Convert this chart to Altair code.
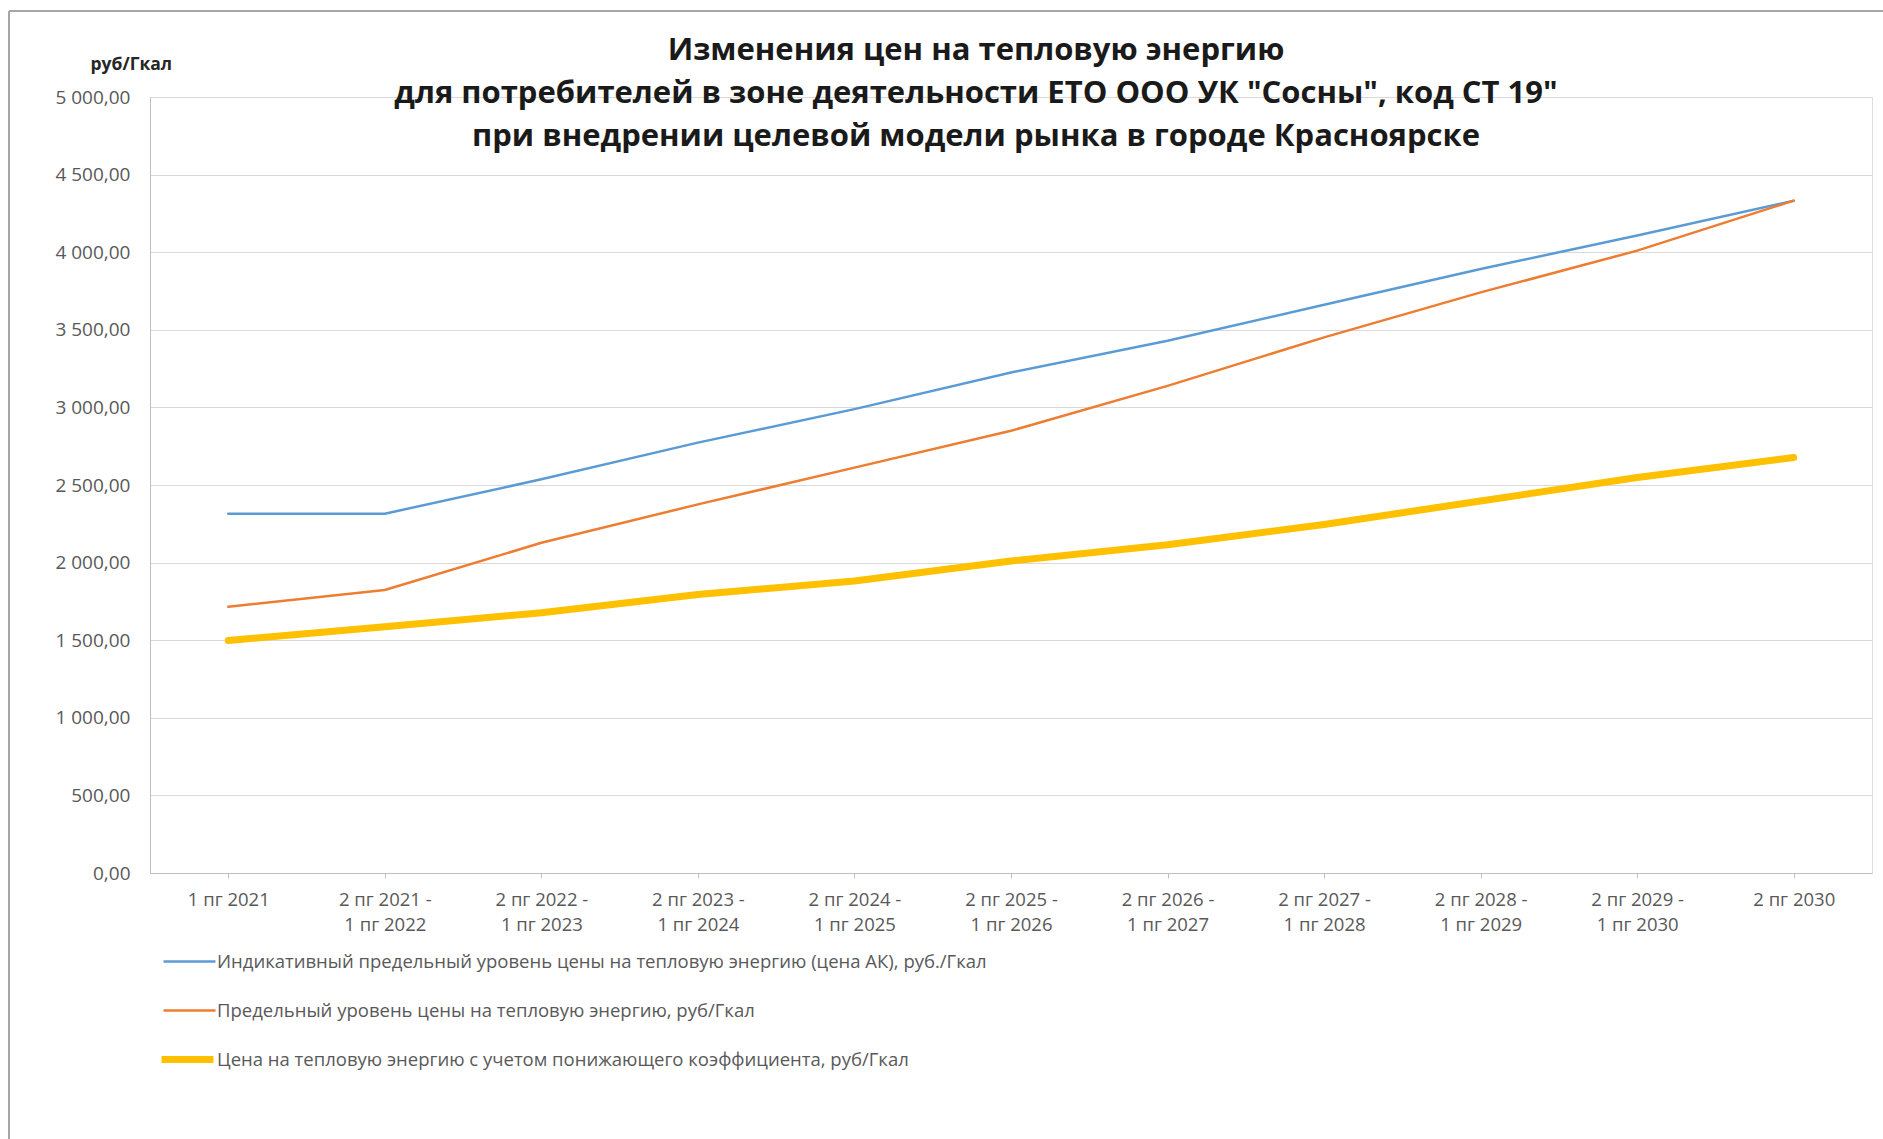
import altair as alt
import pandas as pd

categories = [
    "1 пг 2021",
    "2 пг 2021 -\n1 пг 2022",
    "2 пг 2022 -\n1 пг 2023",
    "2 пг 2023 -\n1 пг 2024",
    "2 пг 2024 -\n1 пг 2025",
    "2 пг 2025 -\n1 пг 2026",
    "2 пг 2026 -\n1 пг 2027",
    "2 пг 2027 -\n1 пг 2028",
    "2 пг 2028 -\n1 пг 2029",
    "2 пг 2029 -\n1 пг 2030",
    "2 пг 2030",
]

series_names = [
    "Индикативный предельный уровень цены на тепловую энергию  (цена АК), руб./Гкал",
    "Предельный уровень цены на тепловую энергию, руб/Гкал",
    "Цена на тепловую энергию с учетом понижающего коэффициента, руб/Гкал",
]

indicative = [2315, 2315, 2537, 2773, 2989, 3225, 3429, 3661, 3892, 4107, 4332]
limit_price = [1715, 1823, 2128, 2375, 2612, 2849, 3139, 3451, 3741, 4010, 4332]
reduced = [1498, 1587, 1677, 1795, 1881, 2010, 2115, 2246, 2397, 2548, 2677]

series_colors = ["#5B9BD5", "#ED7D31", "#FFC000"]

title_lines = [
    "Изменения цен на тепловую энергию",
    "для потребителей в зоне деятельности ЕТО ООО УК \"Сосны\", код СТ 19\"",
    "при внедрении целевой модели рынка в городе Красноярске",
]

rows = []
for name, vals in zip(series_names, [indicative, limit_price, reduced]):
    for cat, v in zip(categories, vals):
        rows.append({"period": cat, "series": name, "value": v})
df = pd.DataFrame(rows)

FONT = "Open Sans"
THIN = 2.5
THICK = 7


def legend_cfg(x, y, sw):
    return alt.Legend(
        title=None,
        orient="none",
        legendX=x,
        legendY=y,
        direction="vertical",
        symbolType="stroke",
        symbolSize=2700,
        symbolStrokeWidth=sw,
        labelFontSize=18.5,
        labelFont=FONT,
        labelColor="#595959",
        labelOffset=0,
        labelLimit=1200,
        rowPadding=12,
    )


base = alt.Chart(df).encode(
    x=alt.X(
        "period:N",
        sort=categories,
        scale=alt.Scale(type="point", padding=0.5),
        axis=alt.Axis(
            title=None,
            labelAngle=0,
            labelExpr="split(datum.label, '\\n')",
            labelFont=FONT,
            labelFontSize=18.5,
            labelColor="#595959",
            labelLineHeight=25,
            labelPadding=12,
            tickSize=5,
            tickColor="#BFBFBF",
            domainColor="#BFBFBF",
            grid=False,
        ),
    ),
    y=alt.Y(
        "value:Q",
        scale=alt.Scale(domain=[0, 5000], nice=False),
        axis=alt.Axis(
            values=list(range(0, 5001, 500)),
            labelExpr="replace(replace(format(datum.value, ',.2f'), ',', ' '), '.', ',')",
            labelFont=FONT,
            labelFontSize=19,
            labelColor="#595959",
            labelPadding=20,
            ticks=False,
            tickSize=0,
            domainColor="#BFBFBF",
            gridColor="#D9D9D9",
            title="руб/Гкал",
            titleAngle=0,
            titleAlign="left",
            titleBaseline="middle",
            titleX=-60,
            titleY=-33,
            titleFont=FONT,
            titleFontSize=17.5,
            titleFontWeight="bold",
            titleColor="#262626",
        ),
    ),
)

thin_lines = base.transform_filter(
    alt.FieldOneOfPredicate(field="series", oneOf=series_names[:2])
).mark_line(strokeWidth=THIN, strokeCap="round", strokeJoin="round").encode(
    color=alt.Color(
        "series:N",
        sort=series_names[:2],
        scale=alt.Scale(domain=series_names[:2], range=series_colors[:2]),
        legend=legend_cfg(12, 837, THIN),
    )
)

thick_lines = base.transform_filter(
    alt.FieldOneOfPredicate(field="series", oneOf=series_names[2:])
).mark_line(strokeWidth=THICK, strokeCap="round", strokeJoin="round").encode(
    color=alt.Color(
        "series:N",
        scale=alt.Scale(domain=series_names[2:], range=series_colors[2:]),
        legend=legend_cfg(8, 933, THICK),
    )
)

border_df = pd.DataFrame({"k": [0]})
left_border = alt.Chart(border_df).mark_rule(color="#A6A6A6", strokeWidth=2).encode(
    x=alt.value(-141), y=alt.value(-86), y2=alt.value(1050)
)
top_border = alt.Chart(border_df).mark_rule(color="#A6A6A6", strokeWidth=2).encode(
    x=alt.value(-141), x2=alt.value(1740), y=alt.value(-86)
)

chart = alt.layer(thin_lines, thick_lines, left_border, top_border).resolve_scale(
    color="independent"
).resolve_legend(color="independent").properties(
    width=1722,
    height=776,
    autosize=alt.AutoSizeParams(type="none"),
    padding={"left": 150, "top": 97, "right": 11, "bottom": 266},
    title=alt.TitleParams(
        text=title_lines,
        font=FONT,
        fontSize=31,
        fontWeight="bold",
        color="#1A1A1A",
        lineHeight=43,
        anchor="middle",
        offset=0,
        dx=-35,
        dy=143,
    ),
).configure_view(strokeWidth=0).configure(background="white")

chart.save("out.html", embed_options={"renderer": "svg", "actions": False})
